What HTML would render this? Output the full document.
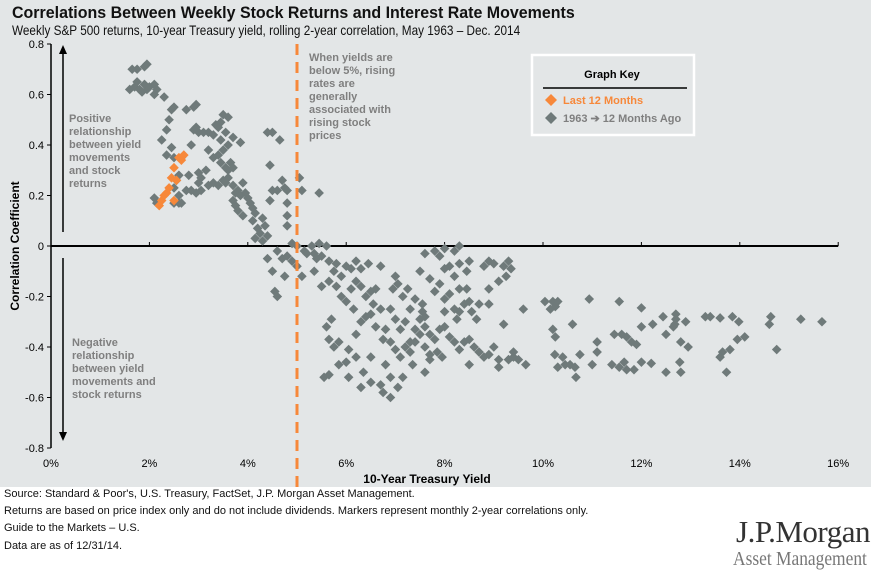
<!DOCTYPE html>
<html><head><meta charset="utf-8">
<style>
body{margin:0;width:881px;height:574px;background:#fff;font-family:"Liberation Sans",Arial,sans-serif;overflow:hidden;position:relative}
.bg{position:absolute;left:0;top:0;width:871px;height:487px;background:#e3e6e7}
.t{position:absolute;white-space:nowrap;transform-origin:0 0}
</style></head><body>
<div class="bg"></div>
<div class="t" style="left:12px;top:3px;font-size:17px;font-weight:bold;color:#111;transform:scaleX(0.94)">Correlations Between Weekly Stock Returns and Interest Rate Movements</div>
<div class="t" style="left:12px;top:22px;font-size:14px;color:#111;transform:scaleX(0.84)">Weekly S&amp;P 500 returns, 10-year Treasury yield, rolling 2-year correlation, May 1963 – Dec. 2014</div>
<svg id="chart" width="881" height="574" style="position:absolute;left:0;top:0"></svg>
<div class="t" style="left:4px;top:488px;font-size:11px;color:#111">Source: Standard &amp; Poor's, U.S. Treasury, FactSet, J.P. Morgan Asset Management.</div>
<div class="t" style="left:4px;top:505px;font-size:11px;color:#111">Returns are based on price index only and do not include dividends. Markers represent monthly 2-year correlations only.</div>
<div class="t" style="left:4px;top:522px;font-size:11px;color:#111">Guide to the Markets – U.S.</div>
<div class="t" style="left:4px;top:540px;font-size:11px;color:#111">Data are as of 12/31/14.</div>
<div class="t" style="left:736px;top:514px;font-size:31px;font-family:'Liberation Serif',serif;color:#333;letter-spacing:-0.5px">J.P.Morgan</div>
<div class="t" style="left:733px;top:548px;font-size:20px;font-family:'Liberation Serif',serif;color:#777;transform:scaleX(0.87)">Asset Management</div>
<script>
const xTicks=[0,2,4,6,8,10,12,14,16];
const yTicks=[0.8,0.6,0.4,0.2,0,-0.2,-0.4,-0.6,-0.8];
const histYield=[1.65,1.75,1.9,1.95,1.6,1.7,1.75,1.8,1.9,1.95,2.0,1.85,2.1,2.15,2.1,2.3,2.45,2.5,2.4,2.35,2.25,2.45,2.35,2.5,2.65,2.6,2.55,2.5,2.6,2.5,2.6,2.65,2.1,2.15,2.75,2.9,2.95,2.9,2.95,3.0,2.85,3.1,3.2,3.35,3.4,3.45,3.5,3.6,3.3,3.45,3.55,3.7,3.85,3.6,3.5,3.4,3.2,3.3,3.45,3.55,3.6,3.65,3.7,3.15,3.0,3.05,3.0,2.8,2.75,2.85,2.95,3.05,3.2,3.3,3.4,3.5,3.55,3.6,3.7,3.75,3.8,3.85,3.9,3.95,4.0,4.05,3.7,3.75,3.8,3.9,4.1,4.15,4.1,4.2,4.25,4.15,4.3,4.4,4.35,4.3,4.45,4.5,4.6,4.7,4.75,4.8,4.8,4.8,4.8,4.9,5.0,5.05,5.1,5.45,4.45,4.65,4.5,4.4,
4.4,4.5,4.6,4.7,4.8,4.9,4.55,4.6,4.75,5.0,5.1,5.15,5.2,5.3,5.35,5.4,5.5,5.45,5.6,5.65,5.35,5.5,5.65,5.75,5.8,5.9,6.0,6.1,6.2,6.3,6.45,6.2,6.1,5.8,5.9,6.0,6.3,6.4,6.5,6.6,6.7,6.55,6.15,5.7,5.6,5.65,5.75,5.85,6.2,6.3,6.4,6.5,6.6,6.7,6.9,7.0,6.8,6.75,7.1,7.2,7.3,7.4,7.5,7.55,7.3,7.15,7.05,7.0,6.95,7.25,7.4,7.55,7.7,7.5,7.8,7.9,8.0,8.1,8.0,8.2,8.3,8.45,8.5,8.4,8.3,8.55,8.7,8.9,8.9,8.1,8.3,8.5,8.45,8.8,8.9,9.0,9.2,9.3,9.35,9.25,9.1,8.2,8.3,7.6,7.8,7.9,8.0,
7.5,7.6,7.7,7.8,7.9,8.0,8.1,8.2,8.3,8.4,8.5,8.6,8.7,8.8,8.9,9.0,9.1,9.3,9.4,9.1,8.5,7.6,7.7,7.85,7.95,7.4,7.3,7.2,7.1,7.0,6.9,7.35,7.6,7.7,6.8,6.9,7.15,7.05,6.5,6.35,6.5,6.7,6.75,6.9,6.3,6.05,5.65,5.55,5.85,6.0,6.2,6.05,8.0,8.2,8.25,7.6,8.65,
10.04,10.2,10.3,10.15,10.25,10.94,11.55,12.0,12.44,12.7,12.7,12.68,12.65,12.9,12.23,12.0,13.3,13.4,13.6,13.85,13.98,14.63,14.6,15.24,15.67,9.6,9.2,10.6,10.2,10.25,11.1,11.1,11.45,11.6,11.7,11.8,11.9,12.5,12.8,12.95,14.1,13.95,13.8,13.65,13.6,14.75,9.3,9.4,9.5,9.65,10.24,10.4,10.3,10.45,10.55,10.65,10.75,10.67,11.0,11.4,11.55,11.65,11.7,11.85,12.0,12.2,12.5,12.8,12.78,13.73];
const histCorr=[0.70,0.70,0.71,0.72,0.62,0.63,0.65,0.62,0.64,0.62,0.63,0.61,0.64,0.62,0.60,0.59,0.54,0.55,0.50,0.46,0.42,0.39,0.36,0.35,0.35,0.28,0.26,0.23,0.20,0.17,0.17,0.17,0.19,0.17,0.54,0.55,0.56,0.46,0.47,0.45,0.40,0.45,0.45,0.48,0.47,0.49,0.52,0.51,0.44,0.42,0.45,0.43,0.41,0.40,0.38,0.36,0.38,0.35,0.33,0.31,0.30,0.33,0.31,0.30,0.25,0.27,0.29,0.28,0.22,0.22,0.21,0.22,0.24,0.25,0.24,0.26,0.25,0.27,0.24,0.21,0.22,0.20,0.25,0.21,0.19,0.17,0.18,0.16,0.14,0.12,0.15,0.13,0.10,0.07,0.05,0.03,0.02,0.04,0.08,0.11,0.18,0.22,0.22,0.26,0.23,0.22,0.17,0.12,0.08,0.01,0.0,0.27,0.22,0.21,0.32,0.42,0.45,0.45,
-0.05,-0.10,-0.02,-0.05,-0.04,-0.06,-0.18,-0.20,-0.12,-0.08,-0.12,-0.02,-0.03,0.0,-0.03,-0.05,-0.04,0.01,0.00,-0.06,-0.10,-0.16,-0.14,-0.10,-0.07,-0.12,-0.08,-0.09,-0.06,-0.09,-0.07,-0.14,-0.17,-0.16,-0.20,-0.22,-0.16,-0.20,-0.18,-0.17,-0.08,-0.23,-0.25,-0.29,-0.32,-0.37,-0.40,-0.38,-0.35,-0.30,-0.28,-0.27,-0.32,-0.25,-0.25,-0.29,-0.33,-0.37,-0.33,-0.30,-0.38,-0.33,-0.29,-0.26,-0.25,-0.20,-0.15,-0.12,-0.17,-0.17,-0.21,-0.23,-0.13,-0.10,-0.18,-0.15,-0.09,-0.19,-0.21,-0.12,-0.17,-0.17,-0.22,-0.23,-0.26,-0.26,-0.23,-0.23,-0.17,-0.08,-0.07,-0.06,-0.10,-0.08,-0.06,-0.07,-0.08,-0.06,-0.09,-0.12,-0.14,-0.02,0.0,-0.03,-0.02,-0.04,-0.01,
-0.35,-0.32,-0.35,-0.37,-0.33,-0.32,-0.36,-0.38,-0.41,-0.38,-0.37,-0.40,-0.42,-0.44,-0.43,-0.40,-0.45,-0.45,-0.42,-0.48,-0.47,-0.40,-0.43,-0.42,-0.44,-0.38,-0.42,-0.40,-0.44,-0.41,-0.38,-0.47,-0.50,-0.45,-0.47,-0.52,-0.52,-0.56,-0.44,-0.50,-0.54,-0.55,-0.58,-0.60,-0.56,-0.52,-0.51,-0.52,-0.47,-0.46,-0.44,-0.41,-0.26,-0.25,-0.29,-0.28,-0.29,
-0.22,-0.22,-0.22,-0.25,-0.24,-0.21,-0.22,-0.245,-0.28,-0.27,-0.29,-0.31,-0.32,-0.30,-0.31,-0.32,-0.28,-0.28,-0.285,-0.28,-0.30,-0.28,-0.31,-0.29,-0.30,-0.25,-0.31,-0.31,-0.33,-0.36,-0.38,-0.42,-0.35,-0.35,-0.36,-0.38,-0.39,-0.35,-0.38,-0.40,-0.36,-0.37,-0.41,-0.42,-0.44,-0.41,-0.45,-0.44,-0.45,-0.47,-0.43,-0.44,-0.48,-0.47,-0.47,-0.48,-0.43,-0.52,-0.47,-0.47,-0.48,-0.46,-0.49,-0.49,-0.46,-0.465,-0.50,-0.50,-0.46,-0.50];
const recentYield=[2.2,2.25,2.3,2.35,2.4,2.5,2.45,2.55,2.5,2.6,2.7,2.65];
const recentCorr=[0.16,0.18,0.20,0.21,0.23,0.18,0.27,0.26,0.31,0.35,0.36,0.34];

const NS="http://www.w3.org/2000/svg";
const svg=document.getElementById('chart');
const X=v=>51+v*49.2;
const Y=v=>246-v*252.5;
function mk(tag,attrs,parent){const e=document.createElementNS(NS,tag);for(const k in attrs)e.setAttribute(k,attrs[k]);(parent||svg).appendChild(e);return e;}

let a=mk('line',{x1:X(0),y1:Y(0.8),x2:X(0),y2:Y(-0.8),stroke:'#000','stroke-width':1.5});


yTicks.forEach(v=>{
  const t=mk('text',{x:44,y:Y(v)+4,'text-anchor':'end','font-size':11,fill:'#000'});
  t.textContent=v===0?'0':v.toFixed(1);
  
  
  const tk=mk('line',{x1:X(0)-4,y1:Y(v),x2:X(0),y2:Y(v),stroke:'#000'});
  
  
});
let xa=mk('line',{x1:X(0),y1:Y(0),x2:X(16),y2:Y(0),stroke:'#000','stroke-width':2});


xTicks.forEach(v=>{
  const tk=mk('line',{x1:X(v),y1:Y(0)-4,x2:X(v),y2:Y(0),stroke:'#000'});
  
  
  const t=mk('text',{x:X(v),y:467,'text-anchor':'middle','font-size':11,fill:'#000'});
  t.textContent=v+'%';
  
  
});
let xt=mk('text',{x:427,y:483,'text-anchor':'middle','font-size':12,'font-weight':'bold',fill:'#000'});
xt.textContent='10-Year Treasury Yield';


let yt=mk('text',{x:0,y:0,'text-anchor':'middle','font-size':12,'font-weight':'bold',fill:'#000',transform:'translate(19,246) rotate(-90)'});
yt.textContent='Correlation Coefficient';



let ua=mk('g',{});


mk('line',{x1:63,y1:232,x2:63,y2:52,stroke:'#000','stroke-width':1.5},ua);
mk('polygon',{points:'59,54 67,54 63,45',fill:'#000'},ua);
let da=mk('g',{});


mk('line',{x1:63,y1:258,x2:63,y2:434,stroke:'#000','stroke-width':1.5},da);
mk('polygon',{points:'59,432 67,432 63,441',fill:'#000'},da);

function lines(x,y,arr,name){
  const g=mk('text',{x:x,y:y,'font-size':11,'font-weight':'bold',fill:'#7f7f7f'});
  
  
  arr.forEach((s,i)=>{const ts=mk('tspan',{x:x,y:y+i*13},g);ts.textContent=s;});
}
lines(69,122,['Positive','relationship','between yield','movements','and stock','returns'],'positive-annotation');
lines(72,346,['Negative','relationship','between yield','movements and','stock returns'],'negative-annotation');
lines(309,61,['When yields are','below 5%, rising','rates are','generally','associated with','rising stock','prices'],'five-percent-annotation');

const diamond=(cx,cy,r)=>`${cx},${cy-r} ${cx+r},${cy} ${cx},${cy+r} ${cx-r},${cy}`;
histYield.forEach((v,i)=>{
  const p=mk('polygon',{points:diamond(X(v),Y(histCorr[i]),4.8),fill:'#6f7a7a'});
  
  
});
let dl=mk('line',{x1:X(5),y1:44,x2:X(5),y2:487,stroke:'#f7883a','stroke-width':3,'stroke-dasharray':'11,7'});


recentYield.forEach((v,i)=>{
  const p=mk('polygon',{points:diamond(X(v),Y(recentCorr[i]),4.8),fill:'#f7883a'});
  
  
});

let lg=mk('g',{});


mk('rect',{x:532,y:55,width:162,height:80,fill:'#e3e6e7',stroke:'#fff','stroke-width':2.5},lg);
let lt=mk('text',{x:612,y:78,'text-anchor':'middle','font-size':11,'font-weight':'bold',fill:'#000'},lg);lt.textContent='Graph Key';
mk('line',{x1:543,y1:88,x2:687,y2:88,stroke:'#000','stroke-width':1.5},lg);
let le1=mk('g',{},lg);


mk('polygon',{points:diamond(551,100,6),fill:'#f7883a'},le1);
let l1=mk('text',{x:563,y:104,'font-size':11,'font-weight':'bold',fill:'#f7883a'},le1);l1.textContent='Last 12 Months';
let le2=mk('g',{},lg);


mk('polygon',{points:diamond(551,118,6),fill:'#6f7a7a'},le2);
let l2=mk('text',{x:563,y:122,'font-size':11,'font-weight':'bold',fill:'#7f7f7f'},le2);l2.textContent='1963 ➔ 12 Months Ago';
</script>
</body></html>
